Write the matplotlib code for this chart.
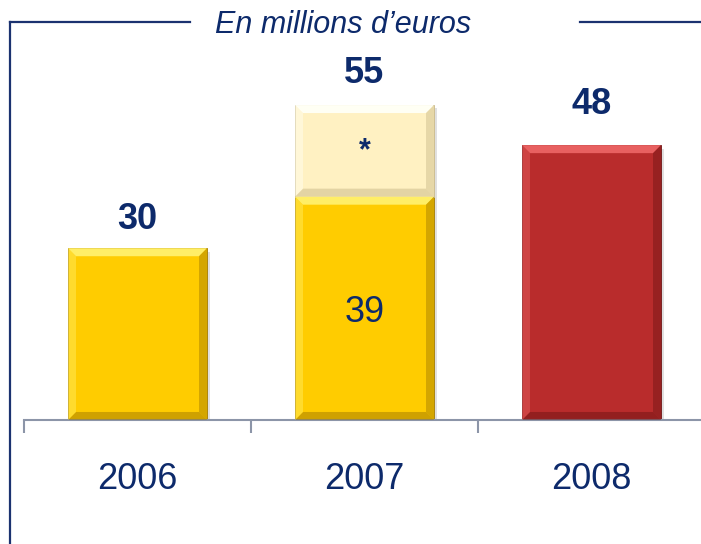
import matplotlib
matplotlib.use("Agg")
import matplotlib.pyplot as plt
from matplotlib.lines import Line2D

# données
years = ["2006", "2007", "2008"]
base_values = [30, 39, 48]
extra_values = [0, 16, 0]
totals = [30, 55, 48]
inner_labels = ["", "39", ""]
extra_labels = ["", "*", ""]
label_offsets = [21, 22.5, 29]  # points au-dessus des barres

NAVY = "#0D2A6B"
FRAME = "#1B3270"
AXIS_GRAY = "#8C95A8"
base_colors = ["#FFCC00", "#FFCC00", "#B92C2C"]
extra_color = "#FFF1C2"

plt.rcParams['font.family'] = ['Liberation Sans', 'DejaVu Sans']


def bevel(ax, x0, x1, y0, y1, light, dark, bx=0.035, by=1.4):
    # petites facettes pour imiter l'effet biseauté
    ax.fill([x0, x1, x1 - bx, x0 + bx], [y1, y1, y1 - by, y1 - by], color=light, lw=0, zorder=3)
    ax.fill([x0, x1, x1 - bx, x0 + bx], [y0, y0, y0 + by, y0 + by], color=dark, lw=0, zorder=3, alpha=0.5)
    ax.fill([x0, x0 + bx, x0 + bx, x0], [y0, y0 + by, y1 - by, y1], color=light, lw=0, zorder=3, alpha=0.45)
    ax.fill([x1, x1 - bx, x1 - bx, x1], [y0, y0 + by, y1 - by, y1], color=dark, lw=0, zorder=3, alpha=0.45)


fig = plt.figure(figsize=(7.01, 5.44), dpi=100)
ax = fig.add_axes([24 / 701, 124 / 544, 681 / 701, 398 / 544])

width = 0.612
x = list(range(len(years)))

light_map = {"#FFCC00": "#FFEE66", "#B92C2C": "#E86060", extra_color: "#FFFFF4"}
dark_map = {"#FFCC00": "#A07800", "#B92C2C": "#6E1414", extra_color: "#C8B888"}

for i in x:
    # ombre
    ax.bar(i + 0.012, base_values[i] + extra_values[i], width, bottom=-0.6,
           color="#000000", alpha=0.12, zorder=1, lw=0)
    ax.bar(i, base_values[i], width, color=base_colors[i], zorder=2,
           edgecolor=dark_map[base_colors[i]], linewidth=0.6)
    bevel(ax, i - width / 2, i + width / 2, 0, base_values[i],
          light_map[base_colors[i]], dark_map[base_colors[i]])
    if extra_values[i]:
        ax.bar(i, extra_values[i], width, bottom=base_values[i], color=extra_color,
               zorder=2, edgecolor=dark_map[extra_color], linewidth=0.6)
        bevel(ax, i - width / 2, i + width / 2, base_values[i],
              base_values[i] + extra_values[i], light_map[extra_color], dark_map[extra_color])
        ax.text(i, base_values[i] + extra_values[i] / 2, extra_labels[i], ha="center",
                va="center", fontsize=22, fontweight="bold", color=NAVY, zorder=5)
    if inner_labels[i]:
        ax.annotate(inner_labels[i], (i, base_values[i] / 2), xytext=(0, -3),
                    textcoords="offset points", ha="center", va="center",
                    fontsize=26, color=NAVY, zorder=5)
    ax.annotate(str(totals[i]), (i, totals[i]), xytext=(0, label_offsets[i]),
                textcoords="offset points", ha="center", va="center",
                fontsize=26, fontweight="bold", color=NAVY)

ax.set_xlim(-0.5, 2.5)
ax.set_ylim(0, 69.5)
ax.set_facecolor("none")
for s in ["top", "right", "left"]:
    ax.spines[s].set_visible(False)
ax.spines["bottom"].set_color(AXIS_GRAY)
ax.spines["bottom"].set_linewidth(1.5)
ax.set_yticks([])
ax.set_xticks(x)
ax.set_xticklabels(years, fontsize=26, color=NAVY)
ax.tick_params(axis="x", which="major", length=0, pad=30)
ax.set_xticks([-0.5, 0.5, 1.5, 2.5], minor=True)
ax.tick_params(axis="x", which="minor", length=9, width=1.5, color=AXIS_GRAY)

# cadre et titre
fig.add_artist(Line2D([10 / 701, 10 / 701], [0, 1 - 22 / 544], color=FRAME, lw=1.6))
fig.add_artist(Line2D([10 / 701, 190 / 701], [1 - 22 / 544] * 2, color=FRAME, lw=1.6))
fig.add_artist(Line2D([580 / 701, 1], [1 - 22 / 544] * 2, color=FRAME, lw=1.6))
fig.text(343 / 701, 1 - 25 / 544, "En millions d’euros", ha="center", va="center",
         fontsize=22, style="italic", color=NAVY)

fig.savefig("out.png", dpi=100)
